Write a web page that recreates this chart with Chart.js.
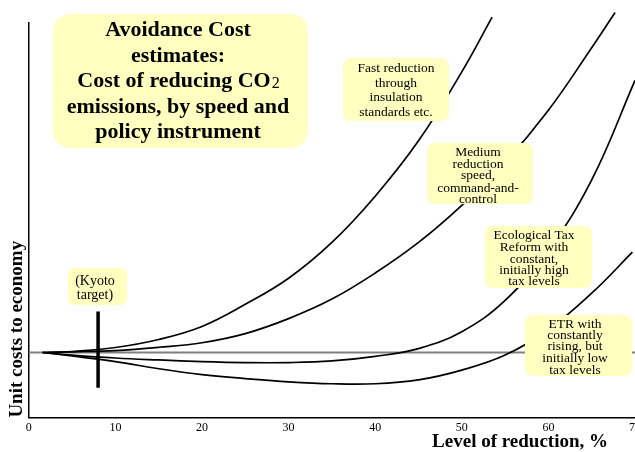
<!DOCTYPE html>
<html><head><meta charset="utf-8">
<script src="https://cdn.jsdelivr.net/npm/chart.js@4.4.1/dist/chart.umd.min.js"></script>
<style>
html,body{margin:0;padding:0;background:#fff;overflow:hidden;}
#wrap{width:635px;height:452px;overflow:hidden;position:relative;}
canvas{display:block;}
</style></head><body>
<div id="wrap"><canvas id="c" width="660" height="452"></canvas></div>
<script>
// x axis tick labels (level of reduction, %)
const xTicks = [0, 10, 20, 30, 40, 50, 60, 70];
// Fast reduction through insulation standards etc.
const fastX = [1.6, 5, 10, 15, 20, 25, 30, 35, 40, 45, 50, 53.5];
const fastY = [0, 0.015, 0.077, 0.2, 0.4, 0.74, 1.14, 1.69, 2.4, 3.25, 4.31, 5.15];
// Medium reduction speed, command-and-control
const mediumX = [1.6, 5, 10, 15, 20, 25, 30, 35, 40, 45, 50, 55, 60, 65, 67.7];
const mediumY = [0, 0.01, 0.03, 0.08, 0.15, 0.29, 0.52, 0.82, 1.22, 1.69, 2.26, 2.92, 3.72, 4.68, 5.22];
// Ecological Tax Reform with constant, initially high tax levels
const ecoX = [1.6, 5, 10, 15, 20, 25, 30, 35, 40, 45, 50, 55, 60, 65, 70];
const ecoY = [0, -0.04, -0.085, -0.115, -0.14, -0.155, -0.155, -0.13, -0.06, 0.06, 0.32, 0.80, 1.57, 2.65, 4.18];
// ETR with constantly rising, but initially low tax levels
const etrX = [1.6, 5, 10, 15, 20, 25, 30, 35, 40, 45, 50, 55, 60, 65, 69.7];
const etrY = [0, -0.054, -0.14, -0.25, -0.34, -0.40, -0.45, -0.48, -0.48, -0.42, -0.27, -0.04, 0.35, 0.91, 1.54];
// Kyoto target marker
const kyotoX = [8, 8];
const kyotoY = [0.63, -0.54];
// zero-cost reference line
const zeroX = [0, 70];
const zeroY = [0, 0];

function pts(xs, ys) { return xs.map((x, i) => ({ x: x, y: ys[i] })); }
const curve = { borderColor: '#000', borderWidth: 1.7, pointRadius: 0, tension: 0.4, fill: false, clip: false };

const SERIF = '"Liberation Serif", "Times New Roman", serif';

function roundBox(ctx, x1, y1, x2, y2, r) {
  ctx.beginPath();
  ctx.moveTo(x1 + r, y1);
  ctx.lineTo(x2 - r, y1);
  ctx.quadraticCurveTo(x2, y1, x2, y1 + r);
  ctx.lineTo(x2, y2 - r);
  ctx.quadraticCurveTo(x2, y2, x2 - r, y2);
  ctx.lineTo(x1 + r, y2);
  ctx.quadraticCurveTo(x1, y2, x1, y2 - r);
  ctx.lineTo(x1, y1 + r);
  ctx.quadraticCurveTo(x1, y1, x1 + r, y1);
  ctx.closePath();
  ctx.fillStyle = '#FFFFC0';
  ctx.fill();
}
function lines(ctx, cx, ys, texts, size) {
  ctx.fillStyle = '#000';
  ctx.font = size + 'px ' + SERIF;
  ctx.textAlign = 'center';
  ctx.textBaseline = 'middle';
  texts.forEach((t, i) => ctx.fillText(t, cx, ys[i]));
}

const notes = {
  id: 'notes',
  afterDatasetsDraw(chart) {
    const ctx = chart.ctx;
    ctx.save();
    // Title box
    roundBox(ctx, 53, 14, 308, 148, 20);
    ctx.fillStyle = '#000';
    ctx.textBaseline = 'alphabetic';
    ctx.textAlign = 'center';
    ctx.font = 'bold 22px ' + SERIF;
    ctx.fillText('Avoidance Cost', 178, 36);
    ctx.fillText('estimates:', 178, 61.5);
    const t1 = 'Cost of reducing CO';
    const w1 = ctx.measureText(t1).width;
    ctx.font = '16px ' + SERIF;
    const w2 = ctx.measureText('2').width;
    const sx = 178 - (w1 + w2) / 2;
    ctx.textAlign = 'left';
    ctx.font = 'bold 22px ' + SERIF;
    ctx.fillText(t1, sx, 87);
    ctx.font = '16px ' + SERIF;
    ctx.fillText('2', sx + w1 + 1, 88);
    ctx.textAlign = 'center';
    ctx.font = 'bold 22px ' + SERIF;
    ctx.fillText('emissions, by speed and', 178, 112.5);
    ctx.fillText('policy instrument', 178, 138);

    roundBox(ctx, 343, 58, 449, 121, 9);
    lines(ctx, 396, [68, 83, 97, 112], ['Fast reduction', 'through', 'insulation', 'standards etc.'], 13.5);

    roundBox(ctx, 427, 143, 533, 204, 9);
    lines(ctx, 478, [152, 164, 175, 188, 199], ['Medium', 'reduction', 'speed,', 'command-and-', 'control'], 13.5);

    roundBox(ctx, 485, 226, 592, 288, 9);
    lines(ctx, 534, [235, 247, 259, 270, 281], ['Ecological Tax', 'Reform with', 'constant,', 'initially high', 'tax levels'], 13.5);

    roundBox(ctx, 525, 315, 632, 376, 9);
    lines(ctx, 575, [324, 335, 346, 358, 370], ['ETR with', 'constantly', 'rising, but', 'initially low', 'tax levels'], 13.5);

    roundBox(ctx, 68, 268, 127, 305, 7);
    lines(ctx, 95, [281, 295], ['(Kyoto', 'target)'], 14);

    // x axis title
    ctx.fillStyle = '#000';
    ctx.font = 'bold 19px ' + SERIF;
    ctx.textAlign = 'right';
    ctx.textBaseline = 'alphabetic';
    ctx.fillText('Level of reduction, %', 608, 447);
    ctx.restore();
  }
};

new Chart(document.getElementById('c'), {
  type: 'line',
  data: {
    datasets: [
      Object.assign({ label: 'Kyoto target', data: pts(kyotoX, kyotoY) }, curve, { borderWidth: 3.5, borderCapStyle: 'butt', tension: 0 }),
      Object.assign({ label: 'Fast reduction', data: pts(fastX, fastY) }, curve),
      Object.assign({ label: 'Medium reduction', data: pts(mediumX, mediumY) }, curve),
      Object.assign({ label: 'Ecological Tax Reform', data: pts(ecoX, ecoY) }, curve),
      Object.assign({ label: 'ETR rising', data: pts(etrX, etrY) }, curve),
      { label: 'zero', data: pts(zeroX, zeroY), borderColor: '#808080', borderWidth: 2, pointRadius: 0, tension: 0, clip: false }
    ]
  },
  options: {
    responsive: false,
    animation: false,
    events: [],
    layout: { padding: { left: 5, top: 23, right: 25, bottom: 14 } },
    plugins: { legend: { display: false }, tooltip: { enabled: false } },
    scales: {
      x: {
        type: 'linear', min: 0, max: 70,
        grid: { display: false, drawTicks: false },
        border: { display: true, color: '#000', width: 1.5 },
        ticks: { color: '#000', font: { family: SERIF, size: 12 }, padding: 3, maxRotation: 0, autoSkip: false },
        afterBuildTicks: (scale) => { scale.ticks = xTicks.map(v => ({ value: v })); }
      },
      y: {
        type: 'linear', min: -1, max: 5.06,
        grid: { display: false, drawTicks: false },
        border: { display: true, color: '#000', width: 1.5 },
        ticks: { display: false },
        title: { display: true, text: 'Unit costs to economy', align: 'start', color: '#000', font: { family: SERIF, size: 19, weight: 'bold' }, padding: { top: 1, bottom: 0 } }
      }
    }
  },
  plugins: [notes]
});
</script>
</body></html>
